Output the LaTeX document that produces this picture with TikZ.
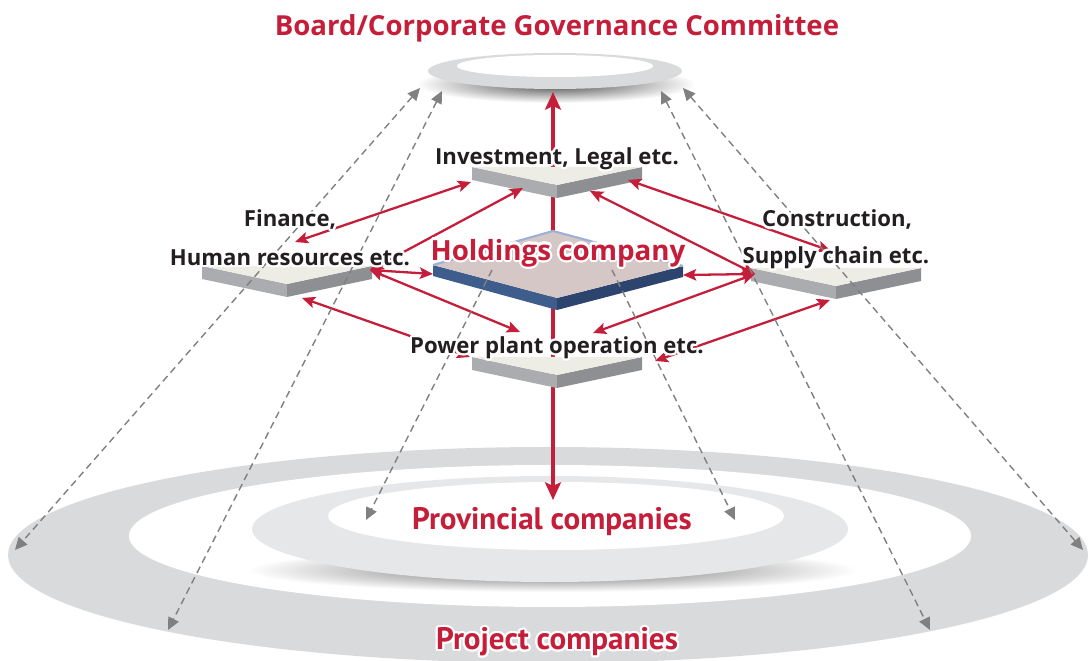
\documentclass[tikz,border=0pt]{standalone}
\usepackage{fontspec}
\setmainfont{Open Sans}
\newfontfamily\condfont{PT Sans}
\usepackage[copies]{contour}
\usetikzlibrary{arrows.meta}

\definecolor{govred}{RGB}{196,30,58}
\definecolor{ink}{RGB}{35,31,32}
\definecolor{ringgray}{RGB}{217,218,219}
\definecolor{discgray}{RGB}{230,231,232}
\definecolor{platetop}{RGB}{237,236,229}
\definecolor{plateleft}{RGB}{170,172,175}
\definecolor{plateright}{RGB}{141,143,146}
\definecolor{hcface}{RGB}{214,199,199}
\definecolor{hcleft}{RGB}{62,93,140}
\definecolor{hcright}{RGB}{45,69,110}
\definecolor{hcedge}{RGB}{157,177,212}
\definecolor{dashgray}{RGB}{128,128,128}

\contourlength{1.3pt}

% a flat grey plate seen from above, #1 names its centre
\newcommand{\plate}[3]{%
  \begin{scope}[shift={(#2,#3)}]
    \fill[plateleft] (0,0) -- (85,18) -- (85,31) -- (0,13) -- cycle;
    \fill[plateright] (170,0) -- (85,18) -- (85,31) -- (170,13) -- cycle;
    \fill[platetop] (0,0) -- (170,0) -- (85,18) -- cycle;
    \coordinate (#1) at (85,9);
  \end{scope}}

\begin{document}
\begin{tikzpicture}[x=0.02cm, y=-0.02cm,
  link/.style={govred, line width=1.3pt, <->, >={Stealth[length=7.5pt,width=6.5pt,inset=1.5pt]}},
  spine/.style={govred, line width=2.4pt, ->, >={Stealth[length=10pt,width=9pt,inset=2pt]}},
  reach/.style={dashgray, line width=0.8pt, dash pattern=on 4pt off 2.6pt, >={Triangle[length=7pt,width=6.5pt]}},
  lbl/.style={text=ink, font=\bfseries\fontsize{12.6}{15}\selectfont},
  tier/.style={text=govred, font=\condfont\bfseries\fontsize{17.7}{20}\selectfont}]
\useasboundingbox (0,0) rectangle (1089,661);
\clip (0,0) rectangle (1089,661);

% rings at the bottom
\fill[ringgray] (548,555) ellipse (540 and 108);
\fill[white] (550,536) ellipse (421 and 71);
\shade[inner color=black!60, outer color=white] (552,570) ellipse (305 and 22);
\fill[discgray] (550,529) ellipse (298 and 53);
\fill[white] (556,516) ellipse (228 and 34);

% ring on top
\shade[inner color=black!70, outer color=white] (556,84) ellipse (140 and 19);
\fill[ringgray] (555,71) ellipse (127 and 18);
\fill[white] (555,66) ellipse (98 and 11);

\coordinate (hc-c) at (553,262);
\coordinate (board-s) at (553,92);
\coordinate (prov-n) at (553,500);
\draw[spine] (hc-c) -- (board-s);
\draw[spine] (hc-c) -- (prov-n);

% plates
\plate{inv}{472}{167}
\plate{hr}{202}{266}
\plate{sc}{751}{268}
\plate{op}{472}{357}

% holdings
\fill[hcleft] (433,265) -- (557,298) -- (557,310) -- (433,276) -- cycle;
\fill[hcright] (683,266) -- (557,298) -- (557,310) -- (683,277) -- cycle;
\fill[hcface] (553,231) -- (683,266) -- (557,298) -- (433,265) -- cycle;
\draw[hcedge, line width=1.2pt, line join=round] (433,265) -- (553,231) -- (683,266);
\coordinate (hc-w) at (433,274);
\coordinate (hc-e) at (683,275);

\coordinate (fin) at (295,242);
\coordinate (hr-e) at (370,270);
\coordinate (hr-s) at (302,298);
\coordinate (inv-w) at (471,182);
\coordinate (inv-sw) at (523,188);
\coordinate (inv-se) at (590,191);
\coordinate (inv-e) at (628,180);
\coordinate (sc-n) at (831,251);
\coordinate (sc-w) at (755,274);
\coordinate (sc-s) at (830,300);
\coordinate (op-nw) at (520,332);
\coordinate (op-ne) at (593,333);
\coordinate (op-w) at (470,357);
\coordinate (op-e) at (655,361);

\foreach \a/\b in {fin/inv-w, hr-e/inv-sw, hr-e/hc-w, hr-e/op-nw, hr-s/op-w,
                   inv-e/sc-n, inv-se/sc-w, hc-e/sc-w, sc-w/op-ne, sc-s/op-e}
  \draw[link] (\a) -- (\b);

% dashed reach lines
\coordinate (brd1) at (420,88);
\coordinate (brd2) at (442,91);
\coordinate (brd3) at (661,91);
\coordinate (brd4) at (683,88);
\coordinate (prj1) at (15,550);
\coordinate (prj2) at (168,630);
\coordinate (prj3) at (930,630);
\coordinate (prj4) at (1083,550);
\coordinate (hcw) at (492,270);
\coordinate (hce) at (612,270);
\coordinate (prv1) at (366,520);
\coordinate (prv2) at (735,520);
\foreach \a/\b in {brd1/prj1, brd2/prj2, brd3/prj3, brd4/prj4}
  \draw[reach, <->] (\a) -- (\b);
\draw[reach, ->] (hcw) -- (prv1);
\draw[reach, ->] (hce) -- (prv2);

% labels
\node[text=govred, font=\bfseries\fontsize{15.7}{19}\selectfont] (board) at (557,28) {Board/Corporate Governance Committee};
\node[lbl] (invest) at (557,160) {\contour{white}{Investment, Legal etc.}};
\node[lbl] (finance) at (290,221) {\contour{white}{Finance,}};
\node[lbl] (human) at (290,259) {\contour{white}{Human resources etc.}};
\node[lbl] (constr) at (837,221) {\contour{white}{Construction,}};
\node[lbl] (supply) at (836,259) {\contour{white}{Supply chain etc.}};
\node[lbl] (plant) at (557,349) {\contour{white}{Power plant operation etc.}};
\node[text=govred, font=\bfseries\fontsize{15.8}{19}\selectfont] (holdings) at (558,254) {\contour{white}{Holdings company}};
\node[tier] (prov) at (552,523) {\contour{white}{Provincial companies}};
\node[tier] (proj) at (557,643) {\contour{white}{Project companies}};
\end{tikzpicture}
\end{document}
